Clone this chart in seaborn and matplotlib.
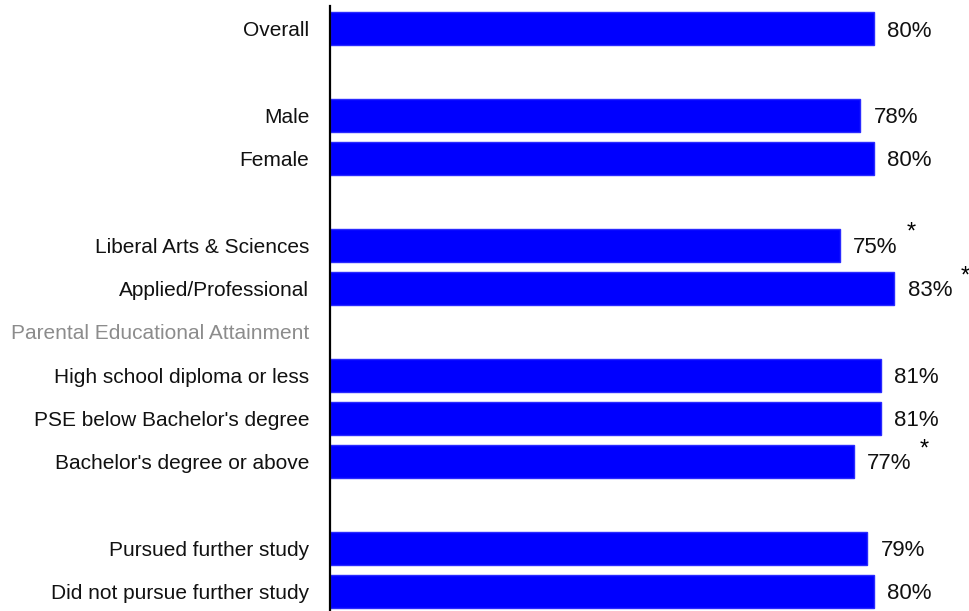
import matplotlib
matplotlib.use("Agg")
import matplotlib.pyplot as plt
import seaborn as sns
import pandas as pd

# Survey results by respondent group (share, %)
groups = [
    "Overall",
    "Male",
    "Female",
    "Liberal Arts & Sciences",
    "Applied/Professional",
    "High school diploma or less",
    "PSE below Bachelor's degree",
    "Bachelor's degree or above",
    "Pursued further study",
    "Did not pursue further study",
]
values = [80, 78, 80, 75, 83, 81, 81, 77, 79, 80]
significant = [False, False, False, True, True, False, False, True, False, False]

heading = "Parental Educational Attainment"

# Row layout: blank spacer rows separate the groups, one row carries a heading
row_order = [
    "Overall", "_sp1",
    "Male", "Female", "_sp2",
    "Liberal Arts & Sciences", "Applied/Professional",
    heading,
    "High school diploma or less", "PSE below Bachelor's degree",
    "Bachelor's degree or above", "_sp3",
    "Pursued further study", "Did not pursue further study",
]

df = pd.DataFrame({"group": groups, "value": values})

sns.set_style("white")
plt.rcParams["font.family"] = ["Liberation Sans", "DejaVu Sans"]

W, H = 969, 611
fig = plt.figure(figsize=(W / 100, H / 100), dpi=100)
ax = fig.add_axes([330 / W, 0, 1 - 330 / W, 1 - 6 / H])

sns.barplot(
    data=df, x="value", y="group", order=row_order,
    color="#0000FF", saturation=1, width=0.76,
    edgecolor="#2a2aff", linewidth=1.0, ax=ax,
)

ax.set_xlim(0, 639 / 6.8)
ax.set_ylim(13.45, -0.53)
ax.set_xlabel("")
ax.set_ylabel("")
ax.set_xticks([])

labels = ["" if r.startswith("_sp") else r for r in row_order]
ax.set_yticks(range(len(row_order)))
ax.set_yticklabels(labels, fontsize=15)
ax.tick_params(axis="y", length=0, pad=15)
for t in ax.get_yticklabels():
    if t.get_text() == heading:
        t.set_color("#8c8c8c")
    else:
        t.set_color("#111111")

for side in ["top", "right", "bottom"]:
    ax.spines[side].set_visible(False)
ax.spines["left"].set_color("black")
ax.spines["left"].set_linewidth(1.6)

# Value labels, with an asterisk for statistically significant differences
for g, v, sig in zip(groups, values, significant):
    y = row_order.index(g)
    ax.annotate(f"{v}%", xy=(v, y), xytext=(9.5, -1.5), textcoords="offset points",
                ha="left", va="center", fontsize=16, color="#111111")
    if sig:
        ax.annotate("*", xy=(v, y), xytext=(51, 9), textcoords="offset points",
                    ha="center", va="center", fontsize=17, color="black")

fig.savefig("out.png", dpi=100)
